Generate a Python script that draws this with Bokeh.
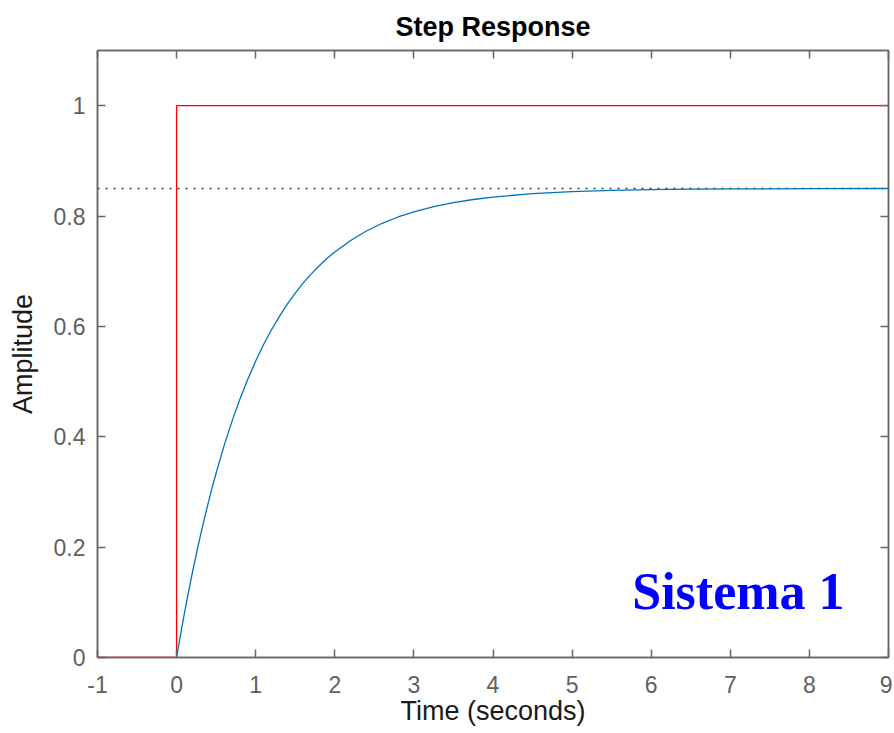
from bokeh.plotting import figure
from bokeh.models import LinearAxis, FixedTicker, Label, Range1d
from bokeh.embed import file_html
from bokeh.resources import INLINE

# ---- data ----
step_t = [-1, 0, 0, 9]
step_y = [0, 0, 1, 1]

resp_t = [0, 0.05, 0.1, 0.15, 0.2, 0.25, 0.3, 0.35, 0.4, 0.45, 0.5, 0.6, 0.7, 0.8,
          0.9, 1.0, 1.1, 1.2, 1.3, 1.4, 1.5, 1.6, 1.7, 1.8, 1.9, 2.0, 2.2, 2.4,
          2.6, 2.8, 3.0, 3.25, 3.5, 3.75, 4.0, 4.5, 5.0, 5.5, 6.0, 6.5, 7.0,
          8.0, 9.0]
resp_y = [0, 0.0415, 0.0809, 0.1184, 0.1541, 0.1880, 0.2203, 0.2510, 0.2802,
          0.3080, 0.3344, 0.3835, 0.4279, 0.4681, 0.5044, 0.5373, 0.5671, 0.5940,
          0.6183, 0.6404, 0.6603, 0.6784, 0.6947, 0.7095, 0.7229, 0.7350, 0.7558,
          0.7729, 0.7869, 0.7983, 0.8077, 0.8170, 0.8243, 0.8300, 0.8344, 0.8406,
          0.8443, 0.8465, 0.8479, 0.8487, 0.8492, 0.8497, 0.8499]

final_value = 0.85
final_t = [-1, 9]

x_ticks = [-1, 0, 1, 2, 3, 4, 5, 6, 7, 8, 9]
y_ticks = [0, 0.2, 0.4, 0.6, 0.8, 1.0]
y_tick_labels = ["0", "0.2", "0.4", "0.6", "0.8", "1"]
x_tick_labels = ["-1", "0", "1", "2", "3", "4", "5", "6", "7", "8", "9"]

title_text = "Step Response"
x_label = "Time (seconds)"
y_label = "Amplitude"
note_text = "Sistema 1"

# ---- figure ----
AX = "#666666"
p = figure(width=892, height=728, output_backend="svg", toolbar_location=None,
           x_range=Range1d(-1, 9), y_range=Range1d(0, 1.1),
           min_border_left=97, min_border_right=4, min_border_top=50,
           min_border_bottom=71, x_axis_location=None, y_axis_location=None)
p.frame_width = 791
p.frame_height = 607
p.grid.visible = False
p.outline_line_color = AX
p.outline_line_width = 1.5

p.title.text = title_text
p.title.align = "center"
p.title.text_font = "Liberation Sans"
p.title.text_font_size = "27px"
p.title.text_font_style = "bold"
p.title.text_color = "#000000"
p.title.standoff = 18


def style_axis(ax, ticks, labels, show):
    ax.ticker = FixedTicker(ticks=ticks)
    ax.major_label_overrides = {t: l for t, l in zip(ticks, labels)}
    ax.minor_tick_line_color = None
    ax.major_tick_in = 8
    ax.major_tick_out = 0
    ax.major_tick_line_color = AX
    ax.major_tick_line_width = 1.5
    ax.axis_line_color = AX
    ax.axis_line_width = 1.5
    ax.major_label_text_font = "Liberation Sans"
    ax.major_label_text_font_size = "23px"
    ax.major_label_text_color = "#5f5f5f"
    ax.axis_label_text_font = "Liberation Sans"
    ax.axis_label_text_font_size = "27px"
    ax.axis_label_text_font_style = "normal"
    ax.axis_label_text_color = "#1a1a1a"
    if not show:
        ax.major_label_text_alpha = 0
        ax.major_label_text_font_size = "1px"


xb = LinearAxis(axis_label=x_label)
style_axis(xb, x_ticks, x_tick_labels, True)
xb.major_label_standoff = 18
xb.axis_label_standoff = 0
p.add_layout(xb, "below")

yl = LinearAxis(axis_label=y_label)
style_axis(yl, y_ticks, y_tick_labels, True)
yl.major_label_standoff = 12
yl.axis_label_standoff = 13
p.add_layout(yl, "left")

xt = LinearAxis()
style_axis(xt, x_ticks, x_tick_labels, False)
p.add_layout(xt, "above")

yr = LinearAxis()
style_axis(yr, y_ticks, y_tick_labels, False)
p.add_layout(yr, "right")

# ---- glyphs ----
p.line(final_t, [final_value, final_value], line_color="#3a3a3a", line_width=1.5,
       line_dash="2 6")
p.line(resp_t, resp_y, line_color="#0072BD", line_width=1.3)
p.line(step_t, step_y, line_color="#FF0000", line_width=1.3)

p.add_layout(Label(x=5.76, y=0.12, text=note_text, text_font="Liberation Serif",
                   text_font_size="52px", text_font_style="bold",
                   text_color="#0000FF", text_baseline="alphabetic"))

open("out.html", "w").write(file_html(p, INLINE))
